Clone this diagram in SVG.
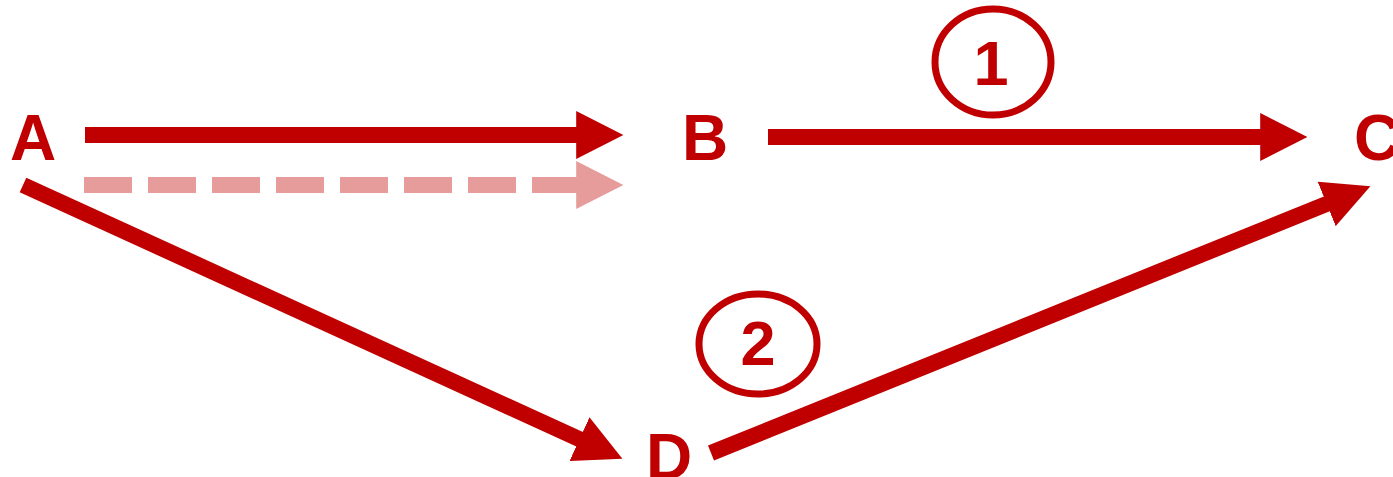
<svg xmlns="http://www.w3.org/2000/svg" width="1393" height="477" viewBox="0 0 1393 477">
<style>
.lbl{font-family:"Liberation Sans",Arial,sans-serif;font-weight:bold;font-size:64px;fill:#C00000}
.num{font-family:"Liberation Sans",Arial,sans-serif;font-weight:bold;font-size:63px;fill:#C00000;text-anchor:middle}
.ring{fill:none;stroke:#C00000;stroke-width:7}
.edge{fill:none;stroke:#C00000;stroke-width:16;stroke-linecap:butt;marker-end:url(#ah)}
.edge.dash{stroke:#E79C9C;stroke-dasharray:48 16;marker-end:url(#ahl)}
</style>
<defs>
<marker id="ah" viewBox="0 -1.5 3 3" refX="0.05" refY="0" markerWidth="3" markerHeight="3" markerUnits="strokeWidth" orient="auto">
<path d="M0,-1.5 L2.95,0 L0,1.5 z" fill="#C00000"/>
</marker>
<marker id="ahl" viewBox="0 -1.5 3 3" refX="0.05" refY="0" markerWidth="3" markerHeight="3" markerUnits="strokeWidth" orient="auto">
<path d="M0,-1.5 L2.95,0 L0,1.5 z" fill="#E79C9C"/>
</marker>
</defs>
<rect width="1393" height="477" fill="#FFFFFF"/>
<g id="connectors">
<path class="edge" d="M85,135 L577,135"/>
<path class="edge dash" d="M84,185 L577,185"/>
<path class="edge" d="M768,137 L1261,137"/>
<path class="edge" d="M23,185 L580.2,439.5"/>
<path class="edge" d="M711,453 L1327.4,203.6"/>
</g>
<g id="node-A"><text class="lbl" x="33" y="160" text-anchor="middle">A</text></g>
<g id="node-B"><text class="lbl" x="705" y="160" text-anchor="middle">B</text></g>
<g id="node-C"><text class="lbl" x="1354" y="160">C</text></g>
<g id="node-D"><text class="lbl" x="669" y="479" text-anchor="middle">D</text></g>
<g id="label-1"><ellipse class="ring" cx="993" cy="62" rx="58" ry="53"/><text class="num" x="991" y="85">1</text></g>
<g id="label-2"><ellipse class="ring" cx="758" cy="344" rx="59" ry="50"/><text class="num" x="758" y="365">2</text></g>
</svg>
